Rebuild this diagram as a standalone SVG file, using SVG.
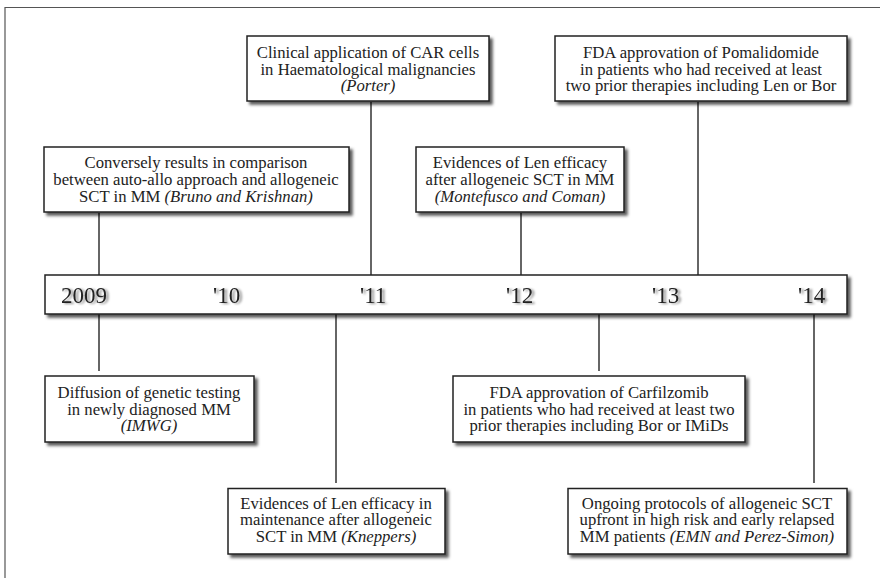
<svg xmlns="http://www.w3.org/2000/svg" width="880" height="578" viewBox="0 0 880 578">
<defs>
<filter id="sh" x="-10%" y="-20%" width="120%" height="150%">
<feDropShadow dx="3" dy="3" stdDeviation="1.5" flood-color="#000" flood-opacity="0.65"/>
</filter>
<filter id="tsh" x="-20%" y="-30%" width="150%" height="160%">
<feDropShadow dx="2.5" dy="1" stdDeviation="1.2" flood-color="#000" flood-opacity="0.45"/>
</filter>
</defs>
<style>
.box{fill:#fff;stroke:#222;stroke-width:1.5;filter:url(#sh)}
.lbl{font-family:'Liberation Serif','Times New Roman',serif;font-size:16.7px;fill:#222;text-anchor:middle}
.it{font-style:italic}
.yr{font-family:'Liberation Serif','Times New Roman',serif;font-size:23px;fill:#222;filter:url(#tsh)}
.conn line{stroke:#333;stroke-width:1.5}
.frame{stroke:#555;stroke-width:1.2;fill:none}
</style>
<rect width="880" height="578" fill="#fff"/>
<path class="frame" d="M5,578 V7.5 H880"/>

<g id="connectors" class="conn">
<line x1="371" y1="102" x2="371" y2="275"/>
<line x1="99" y1="213" x2="99" y2="275"/>
<line x1="521" y1="213" x2="521" y2="275"/>
<line x1="698" y1="102" x2="698" y2="275"/>
<line x1="99" y1="314" x2="99" y2="371"/>
<line x1="336" y1="314" x2="336" y2="483"/>
<line x1="599" y1="314" x2="599" y2="371"/>
<line x1="814" y1="314" x2="814" y2="483"/>
</g>

<g id="timeline">
<rect class="box" x="45" y="275" width="802" height="39"/>
<text class="yr" font-family="Liberation Serif" x="61" y="303">2009</text>
<text class="yr" font-family="Liberation Serif" x="213" y="303">'10</text>
<text class="yr" font-family="Liberation Serif" x="360" y="303">'11</text>
<text class="yr" font-family="Liberation Serif" x="506" y="303">'12</text>
<text class="yr" font-family="Liberation Serif" x="652" y="303">'13</text>
<text class="yr" font-family="Liberation Serif" x="798" y="303">'14</text>
</g>

<g id="car" font-family="Liberation Serif">
<rect class="box" x="247" y="36" width="242" height="65"/>
<text class="lbl" font-family="Liberation Serif" x="368" y="58">Clinical application of CAR cells</text>
<text class="lbl" font-family="Liberation Serif" x="368" y="74.5">in Haematological malignancies</text>
<text class="lbl it" font-family="Liberation Serif" x="368" y="91">(Porter)</text>
</g>

<g id="conversely" font-family="Liberation Serif">
<rect class="box" x="44" y="147" width="305" height="65"/>
<text class="lbl" font-family="Liberation Serif" x="196" y="168.3">Conversely results in comparison</text>
<text class="lbl" font-family="Liberation Serif" x="196" y="185">between auto-allo approach and allogeneic</text>
<text class="lbl" font-family="Liberation Serif" x="196" y="201.7">SCT in MM <tspan class="it">(Bruno and Krishnan)</tspan></text>
</g>

<g id="montefusco" font-family="Liberation Serif">
<rect class="box" x="416" y="147" width="208" height="65"/>
<text class="lbl" font-family="Liberation Serif" x="520" y="168.3">Evidences of Len efficacy</text>
<text class="lbl" font-family="Liberation Serif" x="520" y="185">after allogeneic SCT in MM</text>
<text class="lbl it" font-family="Liberation Serif" x="520" y="201.7">(Montefusco and Coman)</text>
</g>

<g id="pomalidomide" font-family="Liberation Serif">
<rect class="box" x="555" y="36" width="292" height="65"/>
<text class="lbl" font-family="Liberation Serif" x="701" y="58">FDA approvation of Pomalidomide</text>
<text class="lbl" font-family="Liberation Serif" x="701" y="74.5">in patients who had received at least</text>
<text class="lbl" font-family="Liberation Serif" x="701" y="91">two prior therapies including Len or Bor</text>
</g>

<g id="diffusion" font-family="Liberation Serif">
<rect class="box" x="45" y="376" width="209" height="66"/>
<text class="lbl" font-family="Liberation Serif" x="149" y="398">Diffusion of genetic testing</text>
<text class="lbl" font-family="Liberation Serif" x="149" y="414.5">in newly diagnosed MM</text>
<text class="lbl it" font-family="Liberation Serif" x="149" y="431">(IMWG)</text>
</g>

<g id="kneppers" font-family="Liberation Serif">
<rect class="box" x="228" y="488.5" width="217" height="65.5"/>
<text class="lbl" font-family="Liberation Serif" x="336" y="508.5">Evidences of Len efficacy in</text>
<text class="lbl" font-family="Liberation Serif" x="336" y="525">maintenance after allogeneic</text>
<text class="lbl" font-family="Liberation Serif" x="336" y="541.7">SCT in MM <tspan class="it">(Kneppers)</tspan></text>
</g>

<g id="carfilzomib" font-family="Liberation Serif">
<rect class="box" x="453" y="376" width="292" height="66"/>
<text class="lbl" font-family="Liberation Serif" x="599" y="398">FDA approvation of Carfilzomib</text>
<text class="lbl" font-family="Liberation Serif" x="599" y="414.5">in patients who had received at least two</text>
<text class="lbl" font-family="Liberation Serif" x="599" y="431">prior therapies including Bor or IMiDs</text>
</g>

<g id="emn" font-family="Liberation Serif">
<rect class="box" x="568" y="488.5" width="279" height="65.5"/>
<text class="lbl" font-family="Liberation Serif" x="707" y="508.5">Ongoing protocols of allogeneic SCT</text>
<text class="lbl" font-family="Liberation Serif" x="707" y="525">upfront in high risk and early relapsed</text>
<text class="lbl" font-family="Liberation Serif" x="707" y="541.7">MM patients <tspan class="it">(EMN and Perez-Simon)</tspan></text>
</g>
</svg>
